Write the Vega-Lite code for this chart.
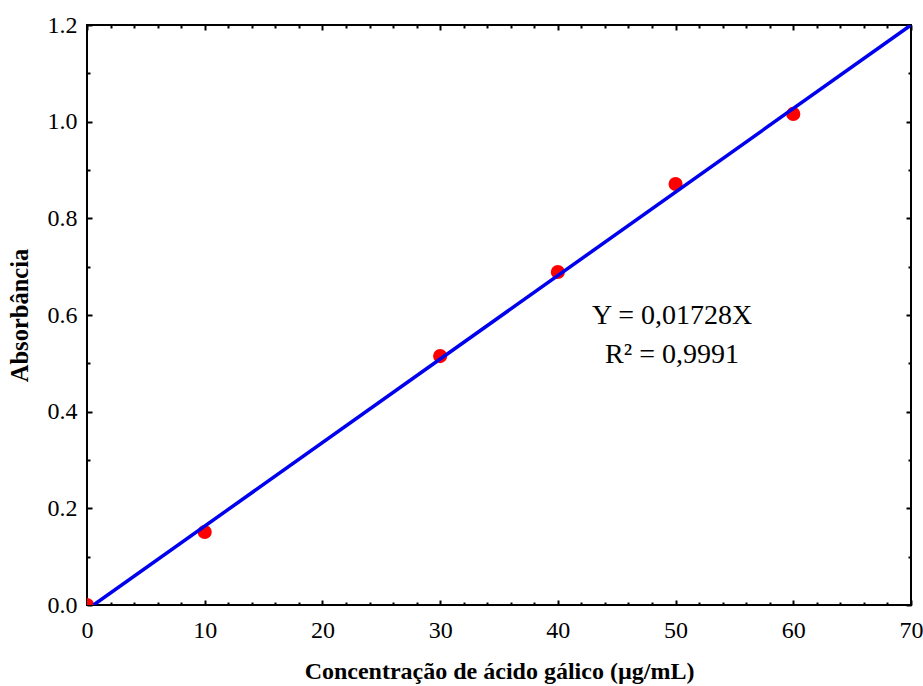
{
  "$schema": "https://vega.github.io/schema/vega-lite/v6.json",
  "autosize": {"type": "none"},
  "padding": {"left": 87, "top": 25, "right": 12, "bottom": 81},
  "width": 824,
  "height": 580,
  "background": "white",
  "config": {
    "font": "Liberation Serif",
    "view": {"stroke": "black", "strokeWidth": 2},
    "axis": {"grid": false, "domain": false, "tickColor": "black", "tickWidth": 2, "labelColor": "black", "titleColor": "black", "labelFont": "Liberation Serif", "titleFont": "Liberation Serif"}
  },
  "datasets": {
    "pts": [
      {"c": 0, "a": 0.0},
      {"c": 10, "a": 0.151},
      {"c": 30, "a": 0.515},
      {"c": 40, "a": 0.689},
      {"c": 50, "a": 0.871},
      {"c": 60, "a": 1.016}
    ],
    "fit": [
      {"c": 0.556, "a": 0.0},
      {"c": 70, "a": 1.2}
    ],
    "ann1": [{"c": 49.7, "a": 0.598, "t": "Y = 0,01728X"}],
    "ann2": [{"c": 49.7, "a": 0.517, "t": "R² = 0,9991"}]
  },
  "resolve": {"axis": {"x": "independent", "y": "independent"}},
  "layer": [
    {
      "data": {"name": "pts"},
      "mark": {"type": "point", "filled": true, "color": "#ff0000", "opacity": 1, "size": 200, "clip": true},
      "encoding": {
        "x": {"field": "c", "type": "quantitative", "scale": {"domain": [0, 70], "nice": false, "zero": false},
          "axis": {"orient": "bottom", "values": [0, 10, 20, 30, 40, 50, 60, 70], "tickSize": -5, "labelPadding": 18, "labelFontSize": 24, "labelFlush": false,
            "title": "Concentração de ácido gálico (µg/mL)", "titleFontSize": 24, "titleFontWeight": "bold", "titlePadding": 17}},
        "y": {"field": "a", "type": "quantitative", "scale": {"domain": [0, 1.2], "nice": false, "zero": false},
          "axis": {"orient": "left", "values": [0, 0.2, 0.4, 0.6, 0.8, 1.0, 1.2], "format": ".1f", "tickSize": -5, "labelPadding": 15, "labelFontSize": 24, "labelFlush": false,
            "title": "Absorbância", "titleFontSize": 24.5, "titleFontWeight": "bold", "titlePadding": 15}}
      }
    },
    {
      "data": {"name": "fit"},
      "mark": {"type": "line", "color": "#0000ee", "strokeWidth": 3.5, "clip": true},
      "encoding": {
        "x": {"field": "c", "type": "quantitative", "scale": {"domain": [0, 70], "nice": false, "zero": false},
          "axis": {"orient": "top", "values": [0, 10, 20, 30, 40, 50, 60, 70], "tickSize": -5, "labels": false, "title": null}},
        "y": {"field": "a", "type": "quantitative", "scale": {"domain": [0, 1.2], "nice": false, "zero": false},
          "axis": {"orient": "right", "values": [0, 0.2, 0.4, 0.6, 0.8, 1.0, 1.2], "tickSize": -5, "labels": false, "title": null}}
      }
    },
    {
      "data": {"name": "ann1"},
      "mark": {"type": "text", "font": "Liberation Serif", "fontSize": 28, "color": "black", "align": "center", "baseline": "middle"},
      "encoding": {
        "text": {"field": "t"},
        "x": {"field": "c", "type": "quantitative", "scale": {"domain": [0, 70], "nice": false, "zero": false},
          "axis": {"orient": "bottom", "values": [2,4,6,8,12,14,16,18,22,24,26,28,32,34,36,38,42,44,46,48,52,54,56,58,62,64,66,68], "tickSize": -3, "labels": false, "title": null}},
        "y": {"field": "a", "type": "quantitative", "scale": {"domain": [0, 1.2], "nice": false, "zero": false},
          "axis": {"orient": "left", "values": [0.1, 0.3, 0.5, 0.7, 0.9, 1.1], "tickSize": -3, "labels": false, "title": null}}
      }
    },
    {
      "data": {"name": "ann2"},
      "mark": {"type": "text", "font": "Liberation Serif", "fontSize": 28, "color": "black", "align": "center", "baseline": "middle"},
      "encoding": {
        "text": {"field": "t"},
        "x": {"field": "c", "type": "quantitative", "scale": {"domain": [0, 70], "nice": false, "zero": false},
          "axis": {"orient": "top", "values": [2,4,6,8,12,14,16,18,22,24,26,28,32,34,36,38,42,44,46,48,52,54,56,58,62,64,66,68], "tickSize": -3, "labels": false, "title": null}},
        "y": {"field": "a", "type": "quantitative", "scale": {"domain": [0, 1.2], "nice": false, "zero": false},
          "axis": {"orient": "right", "values": [0.1, 0.3, 0.5, 0.7, 0.9, 1.1], "tickSize": -3, "labels": false, "title": null}}
      }
    }
  ]
}
